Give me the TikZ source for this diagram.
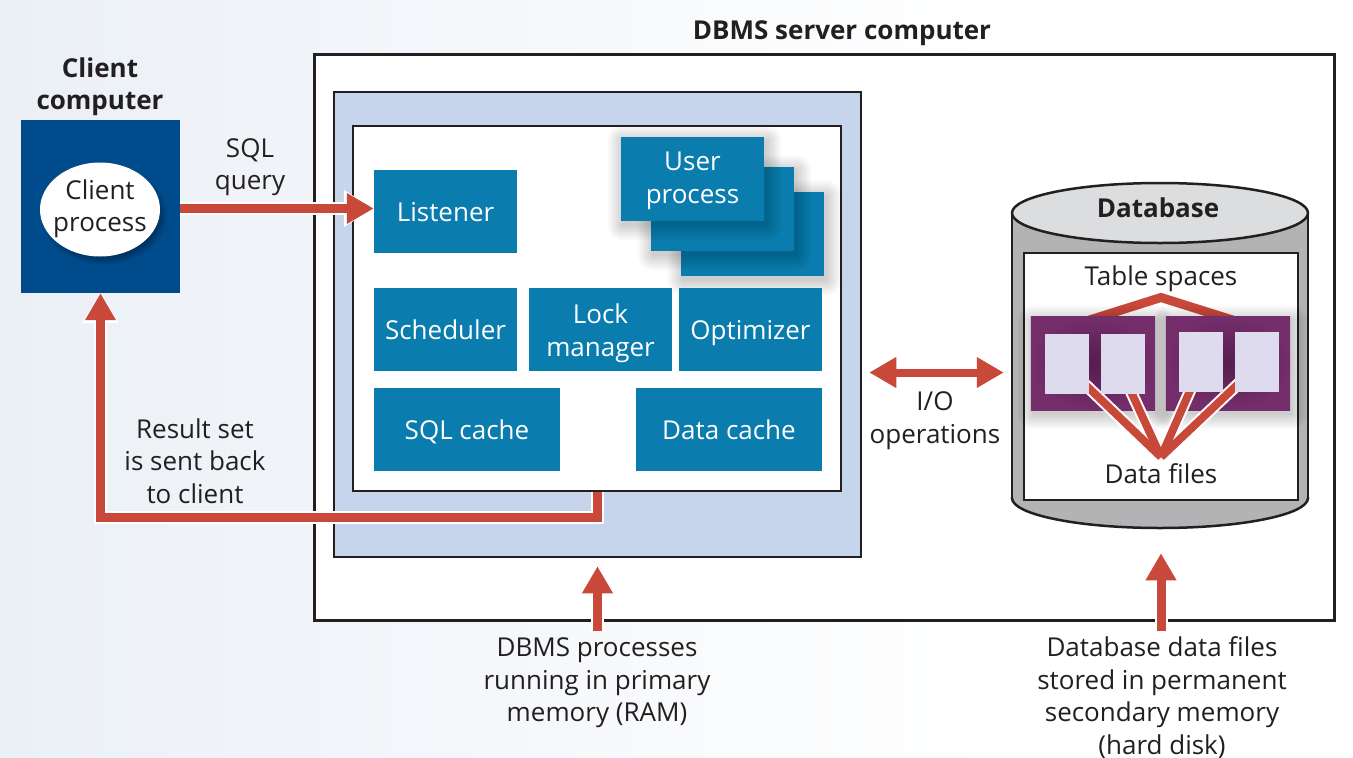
\documentclass[tikz,border=0pt]{standalone}
\usepackage{fontspec}
\setmainfont{Open Sans}
\usetikzlibrary{arrows.meta,shadows,shapes.geometric}
\definecolor{boxblue}{HTML}{0A7CAD}
\definecolor{clientblue}{HTML}{004B8C}
\definecolor{ramblue}{HTML}{C6D4EC}
\definecolor{arrred}{HTML}{C8483A}
\definecolor{textc}{HTML}{231F20}
\definecolor{purp}{HTML}{742E6B}
\definecolor{purpdark}{HTML}{561E4E}
\definecolor{lilac}{HTML}{DFDBEE}
\definecolor{cylgray}{HTML}{B2B3B5}
\definecolor{cyltop}{HTML}{DCDDDF}
\definecolor{bgl}{HTML}{EBF0F6}
\tikzset{
  txt/.style={font=\fontsize{26}{32.5}\selectfont, text=textc, align=center, inner sep=0pt},
  onel/.style={text height=20pt, text depth=0pt},
  btxt/.style={font=\bfseries\fontsize{26}{32}\selectfont, text=textc, align=center, inner sep=0pt},
  proc/.style={fill=boxblue, inner sep=0pt},
  wtxt/.style={font=\fontsize{26}{32.5}\selectfont, text=white, align=center, inner sep=0pt},
  frame/.style={draw=textc, inner sep=0pt},
  redarr/.style={draw=arrred, line width=9pt, -{Triangle[length=27pt,width=29pt]},
    preaction={draw=white, line width=13pt, -{Triangle[length=30pt,width=35pt]}}},
  redarrtwo/.style={draw=arrred, line width=8pt, {Triangle[length=27pt,width=29pt]}-{Triangle[length=27pt,width=29pt]},
    preaction={draw=white, line width=12pt, {Triangle[length=30pt,width=35pt]}-{Triangle[length=30pt,width=35pt]}}},
}
\newcommand{\softshadow}[1]{%
  \foreach \k in {1,3,...,15}{%
    \fill[black, opacity=0.022, rounded corners=\k pt]
      ([xshift=2pt-\k pt, yshift=-4pt-\k pt]#1.south west) rectangle ([xshift=2pt+\k pt, yshift=-4pt+\k pt]#1.north east);}}
\begin{document}
\begin{tikzpicture}[x=1pt,y=-1pt]
\useasboundingbox (0,0) rectangle (1353,758);
\shade[left color=bgl, right color=white] (0,0) rectangle (1000,758);
\fill[white] (1000,0) rectangle (1353,758);

% titles
\node[btxt] (clientt) at (100,87) {Client\\computer};
\node[btxt, onel] (servert) at (842,29) {DBMS server computer};

% client
\node[fill=clientblue, minimum width=159, minimum height=173, inner sep=0pt] (client) at (100.5,206.5) {};
\foreach \k in {1,3,...,13}
  \fill[black, opacity=0.05] (104,215) ellipse [x radius=54+\k*0.7, y radius=41+\k*0.7];
\node[ellipse, fill=white, minimum width=120, minimum height=94, inner sep=0pt] (cproc) at (100,209.5) {};
\node[txt] (cproct) at (100,208.5) {Client\\process};

% server frames
\node[frame, line width=3pt, fill=white, minimum width=1020, minimum height=566] (server) at (824,337) {};
\node[frame, line width=2.5pt, fill=ramblue, minimum width=527, minimum height=465] (ram) at (597.5,324.5) {};
\node[frame, line width=2.5pt, fill=white, minimum width=488, minimum height=365] (inner) at (597,308.5) {};

% processes
\node[proc, minimum width=143, minimum height=83] (listener) at (445.5,211.5) {};
\node[wtxt, onel] at (listener.center) {Listener};
\path (752.5,234) node[minimum width=143, minimum height=84, inner sep=0pt] (up3) {};
\softshadow{up3}
\node[proc, minimum width=143, minimum height=84] at (up3.center) {};
\path (722.5,209) node[minimum width=143, minimum height=84, inner sep=0pt] (up2) {};
\softshadow{up2}
\node[proc, minimum width=143, minimum height=84] at (up2.center) {};
\path (692.5,179) node[minimum width=143, minimum height=84, inner sep=0pt] (up1) {};
\softshadow{up1}
\node[proc, minimum width=143, minimum height=84] at (up1.center) {};
\node[wtxt] at ([yshift=-2pt]up1.center) {User\\process};
\node[proc, minimum width=143, minimum height=83] (sched) at (445.5,329) {};
\node[wtxt, onel] at (sched.center) {Scheduler};
\node[proc, minimum width=143, minimum height=83] (lock) at (600.5,329) {};
\node[wtxt] at ([yshift=-4pt]lock.center) {Lock\\manager};
\node[proc, minimum width=143, minimum height=83] (optim) at (750.5,329) {};
\node[wtxt, onel] at (optim.center) {Optimizer};
\node[proc, minimum width=186, minimum height=83] (sqlc) at (467,429) {};
\node[wtxt, onel] at (sqlc.center) {SQL cache};
\node[proc, minimum width=186, minimum height=83] (datac) at (729,429) {};
\node[wtxt, onel] at (datac.center) {Data cache};

% database cylinder
\node[ellipse, fill=cylgray, draw=textc, line width=2.5pt, minimum width=296, minimum height=60, inner sep=0pt] (dbbot) at (1160,498) {};
\fill[cylgray] (1012,213) rectangle (1308,498);
\draw[textc, line width=2.5pt] (1012,213) -- (1012,498) (1308,213) -- (1308,498);
\node[ellipse, fill=cyltop, draw=textc, line width=2.5pt, minimum width=296, minimum height=60, inner sep=0pt] (dbtop) at (1160,213) {};
\node[btxt, onel] (dbtitle) at (1158,207) {Database};
\node[frame, line width=2.5pt, fill=white, minimum width=274, minimum height=247] (dbpanel) at (1161,376.5) {};
\node[txt, onel] (tsp) at (1161,275) {Table spaces};
\node[txt, onel] (dfiles) at (1161,473) {Data files};

\draw[arrred, line width=9pt, line join=miter] (1080,323) -- (1161,297.5) -- (1242,323);
\node[inner sep=0pt, minimum width=124, minimum height=93] (ts1) at (1093,363.5) {};
\node[inner sep=0pt, minimum width=124, minimum height=93] (ts2) at (1228,363.5) {};
\softshadow{ts1}
\softshadow{ts2}
\shade[inner color=purpdark, outer color=purp] (ts1.south west) rectangle (ts1.north east);
\shade[inner color=purpdark, outer color=purp] (ts2.south west) rectangle (ts2.north east);
\coordinate (vpt) at (1161,457);
\foreach \px/\py in {1070/370,1121/370,1200/368,1255/368}
  \draw[white, line width=12pt] (\px,\py) -- (vpt);
\foreach \px/\py in {1070/370,1121/370,1200/368,1255/368}
  \draw[arrred, line width=8pt] (\px,\py) -- (vpt);
\node[fill=lilac, minimum width=44, minimum height=60, inner sep=0pt] (sq1) at (1067,364) {};
\node[fill=lilac, minimum width=44, minimum height=60, inner sep=0pt] (sq2) at (1123,364) {};
\node[fill=lilac, minimum width=44, minimum height=60, inner sep=0pt] (sq3) at (1201,362) {};
\node[fill=lilac, minimum width=44, minimum height=60, inner sep=0pt] (sq4) at (1257,362) {};

% labels
\node[txt] (sqlq) at (250,167) {SQL\\query};
\node[txt] (result) at (195,461) {Result set\\is sent back\\to client};
\node[txt] (io) at (935,420.5) {I/O\\operations};
\node[txt] (ramnote) at (597,683) {DBMS processes\\running in primary\\memory (RAM)};
\node[txt] (disknote) at (1162,697.5) {Database data files\\stored in permanent\\secondary memory\\(hard disk)};

% arrows
\coordinate (qy) at (0,208.5);
\draw[redarr] (client.east |- qy) -- (listener.west |- qy);
\draw[redarr] (inner.south) -- ++(0,25.5) -| (client.south);
\coordinate (ioy) at (0,372.5);
\draw[redarrtwo, shorten <=7pt, shorten >=7pt] (ram.east |- ioy) -- (dbbot.west |- ioy);
\coordinate (b1) at (597.5,631);
\draw[redarr, shorten >=8pt] (b1) -- (ram.south);
\coordinate (b2) at (1161,631);
\draw[redarr, shorten >=24pt] (b2) -- (dbbot.south -| b2);
\end{tikzpicture}
\end{document}
